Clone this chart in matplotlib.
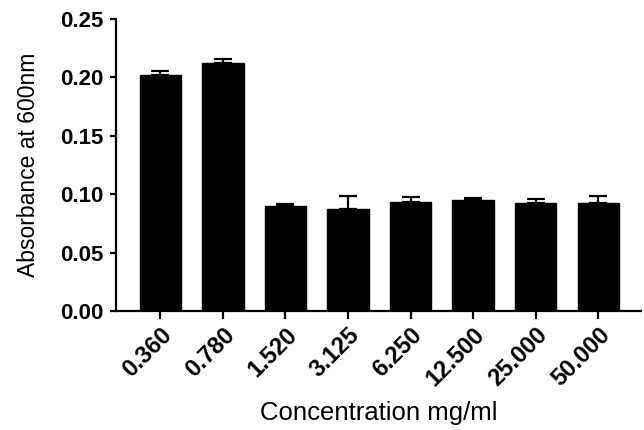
import matplotlib
matplotlib.use("Agg")
import matplotlib.pyplot as plt
import numpy as np

categories = ["0.360", "0.780", "1.520", "3.125", "6.250", "12.500", "25.000", "50.000"]
values = [0.202, 0.212, 0.0896, 0.087, 0.0936, 0.095, 0.0922, 0.0922]
errors = [0.0035, 0.0037, 0.0024, 0.0117, 0.0043, 0.0015, 0.0037, 0.0063]
yticks = [0.00, 0.05, 0.10, 0.15, 0.20, 0.25]

plt.rcParams['font.family'] = ['Liberation Sans', 'DejaVu Sans']

fig = plt.figure(figsize=(6.44, 4.30), dpi=100)
ax = fig.add_axes([0.180, 0.2767, 0.815, 0.6791])

x = np.arange(len(categories))
ax.bar(x, values, width=0.66, color='black', edgecolor='black', zorder=2)
ax.errorbar(x, values, yerr=[np.zeros(len(errors)), errors], fmt='none',
            ecolor='black', elinewidth=1.6, capsize=6.5, capthick=1.6, zorder=3)

ax.set_xlim(-0.71, 7.68)
ax.set_ylim(0, 0.25)
ax.set_yticks(yticks)
ax.set_yticklabels([f"{t:.2f}" for t in yticks], fontsize=16, fontweight='bold')
ax.set_xticks(x)
ax.set_xticklabels(categories, rotation=45, ha='right', va='top',
                   rotation_mode='anchor', fontsize=17, fontweight='bold')

for s in ['top', 'right']:
    ax.spines[s].set_visible(False)
for s in ['left', 'bottom']:
    ax.spines[s].set_linewidth(1.6)
ax.tick_params(axis='both', width=1.6, color='black')
ax.tick_params(axis='y', length=4, pad=5)
ax.tick_params(axis='x', length=6, pad=3)

ax.set_ylabel("Absorbance at 600nm", fontsize=16.5, va='center')
ax.yaxis.set_label_coords(-0.166, 0.5)
ax.set_xlabel("Concentration mg/ml", fontsize=18.5, va='center')
ax.xaxis.set_label_coords(0.5, -0.349)

fig.savefig("out.png", dpi=100)
